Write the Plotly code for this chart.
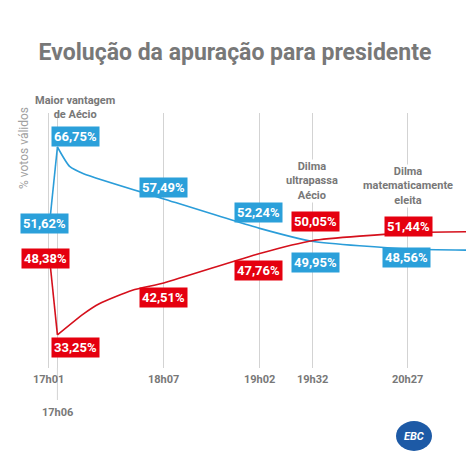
import plotly.graph_objects as go

# ---------------- data ----------------
DAY = "2014-10-26 "
title_text = "Evolução da apuração para presidente"
y_title = "% votos válidos"

aecio_times = ["17:01", "17:06", "17:13", "17:21", "18:07", "19:02", "19:32", "20:27", "21:05"]
aecio_vals = [51.62, 66.75, 63.3, 62.0, 57.49, 52.24, 49.95, 48.56, 48.36]

dilma_times = ["17:01", "17:06", "17:21", "17:30", "17:49", "18:07", "19:02", "19:32", "20:27", "21:05"]
dilma_vals = [48.38, 33.25, 37.0, 38.8, 41.2, 42.51, 47.76, 50.05, 51.44, 51.64]

tick_times = ["17:01", "17:06", "18:07", "19:02", "19:32", "20:27"]
tick_labels = ["17h01", "17h06", "18h07", "19h02", "19h32", "20h27"]

# labelled points (time, value)
aecio_label_times = ["17:01", "17:06", "18:07", "19:02", "19:32", "20:27"]
aecio_label_vals = [51.62, 66.75, 57.49, 52.24, 49.95, 48.56]
dilma_label_times = ["17:01", "17:06", "18:07", "19:02", "19:32", "20:27"]
dilma_label_vals = [48.38, 33.25, 42.51, 47.76, 50.05, 51.44]

notes = [
    ("17:06", "Maior vantagem<br>de Aécio"),
    ("19:32", "Dilma<br>ultrapassa<br>Aécio"),
    ("20:27", "Dilma<br>matematicamente<br>eleita"),
]

# ---------------- style ----------------
FONT = "Roboto, Liberation Sans, sans-serif"
GREY = "#787878"
BLUE_LINE = "#2b9dd9"
RED_LINE = "#d5101c"
BLUE_BOX = "#2ba0da"
RED_BOX = "#e5000f"

OFF = 8                      # page body margin
W, H = 474 - OFF, 474 - OFF
PLOT_TOP, PLOT_BOTTOM = 113, 368   # viewport pixels
MT, MB = PLOT_TOP - OFF, 474 - PLOT_BOTTOM
PH = H - MT - MB


def t(s):
    return DAY + s


def py_to_paper(py):
    return (PLOT_BOTTOM - py) / PH


def px_to_paper(px):
    return (px - OFF) / W


fig = go.Figure()


def add_series(times, vals, color):
    # steep first segment drawn straight, the rest smoothed
    fig.add_trace(go.Scatter(
        x=[t(s) for s in times[:2]], y=vals[:2], mode="lines",
        line=dict(color=color, width=1.6),
        hoverinfo="skip", showlegend=False))
    fig.add_trace(go.Scatter(
        x=[t(s) for s in times[1:]], y=vals[1:], mode="lines",
        line=dict(color=color, width=1.6, shape="spline", smoothing=0.6),
        hoverinfo="skip", showlegend=False))


add_series(aecio_times, aecio_vals, BLUE_LINE)
add_series(dilma_times, dilma_vals, RED_LINE)

annotations = []


def fmt(v):
    return f"{v:.2f}".replace(".", ",") + "%"


a_shift = {"17:01": (-4, 8), "17:06": (18, 10), "18:07": (0, 11),
           "19:02": (-1, 16), "19:32": (3, -21), "20:27": (-1, -8)}
d_shift = {"17:01": (-3, -8), "17:06": (18, -13), "18:07": (0, -15),
           "19:02": (-1, -17), "19:32": (3, 19), "20:27": (1, 6)}

LABEL_FONT = dict(family=FONT, size=13, color="white", weight="bold")
for tm, v in zip(aecio_label_times, aecio_label_vals):
    xs, ys = a_shift[tm]
    annotations.append(dict(
        x=t(tm), y=v, xref="x", yref="y", text=fmt(v), showarrow=False,
        xanchor="center", yanchor="middle",
        xshift=xs, yshift=ys, bgcolor=BLUE_BOX, borderpad=2, font=LABEL_FONT))
for tm, v in zip(dilma_label_times, dilma_label_vals):
    xs, ys = d_shift[tm]
    annotations.append(dict(
        x=t(tm), y=v, xref="x", yref="y", text=fmt(v), showarrow=False,
        xanchor="center", yanchor="middle",
        xshift=xs, yshift=ys, bgcolor=RED_BOX, borderpad=2, font=LABEL_FONT))

# notes
note_pos = {"17:06": (18, 107, None), "19:32": (0, 181, "white"), "20:27": (0, 186, "white")}
for tm, txt in notes:
    xs, pyc, bg = note_pos[tm]
    d = dict(x=t(tm), y=py_to_paper(pyc), xref="x", yref="paper", text=txt,
             showarrow=False, xshift=xs, align="center",
             xanchor="center", yanchor="middle",
             font=dict(family=FONT, size=11, color=GREY, weight="bold"))
    if bg:
        d["bgcolor"] = bg
        d["borderpad"] = 0
    annotations.append(d)

# tick labels
for tm, lab in zip(tick_times, tick_labels):
    low = (tm == "17:06")
    annotations.append(dict(
        x=t(tm), y=py_to_paper(412 if low else 379), xref="x", yref="paper",
        text=lab, showarrow=False, xanchor="center", yanchor="middle",
        font=dict(family=FONT, size=11, color=GREY, weight="bold")))

# y title
annotations.append(dict(
    x=px_to_paper(24), y=py_to_paper(148), xref="paper", yref="paper", text=y_title,
    textangle=-90, showarrow=False, xanchor="center", yanchor="middle",
    font=dict(family=FONT, size=12, color="#a0a0a0")))

# logo text
annotations.append(dict(
    x=px_to_paper(414), y=py_to_paper(436), xref="paper", yref="paper", text="<i>EBC</i>",
    showarrow=False, xanchor="center", yanchor="middle",
    font=dict(family=FONT, size=11, color="white", weight="bold")))

shapes = [
    # extension of the 17h06 guide line
    dict(type="line", xref="x", yref="paper", x0=t("17:06"), x1=t("17:06"),
         y0=py_to_paper(400), y1=0, line=dict(color="#d3d3d3", width=1), layer="below"),
    # logo blob
    dict(type="circle", xref="paper", yref="paper",
         x0=px_to_paper(396), x1=px_to_paper(432), y0=py_to_paper(451), y1=py_to_paper(421),
         fillcolor="#1d5aa6", line=dict(width=0)),
]

fig.update_layout(
    width=W, height=H,
    margin=dict(l=0, r=0, t=MT, b=MB),
    paper_bgcolor="white", plot_bgcolor="white",
    title=dict(text=f"<b>{title_text}</b>", x=px_to_paper(235), xanchor="center",
               y=1 - (52 - OFF) / H, yanchor="middle",
               font=dict(family=FONT, size=23, color=GREY)),
    xaxis=dict(type="date", range=[t("16:37:40"), t("21:04:54")],
               tickvals=[t(s) for s in tick_times], showticklabels=False,
               showgrid=True, gridcolor="#d3d3d3", gridwidth=1,
               zeroline=False, showline=False, fixedrange=True),
    yaxis=dict(range=[27.35, 72.81], showgrid=False, zeroline=False,
               showticklabels=False, showline=False, fixedrange=True),
    annotations=annotations,
    shapes=shapes,
    showlegend=False,
)

fig.write_html("out.html")
